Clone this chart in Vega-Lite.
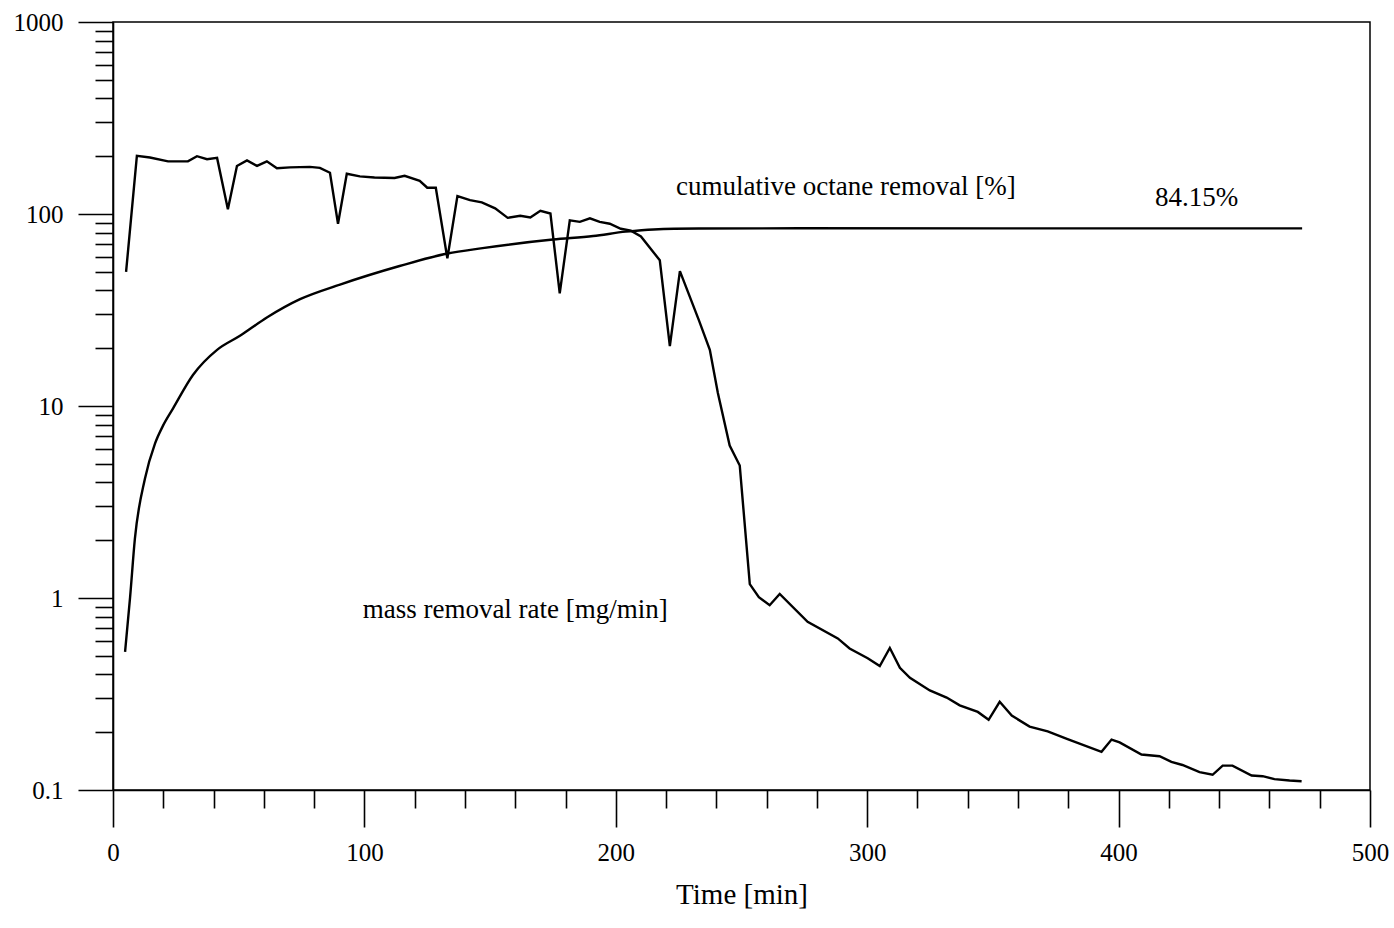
{
  "$schema": "https://vega.github.io/schema/vega-lite/v6.json",
  "width": 1257,
  "height": 768,
  "autosize": {"type": "none"},
  "padding": {"left": 113, "top": 22, "right": 24, "bottom": 138},
  "background": "white",
  "config": {
    "view": {"stroke": "black", "strokeWidth": 1.5},
    "font": "Liberation Serif",
    "axis": {"grid": false, "domainColor": "black", "domainWidth": 1.6, "tickColor": "black", "tickWidth": 1.6, "labelColor": "black", "labelFont": "Liberation Serif", "titleFont": "Liberation Serif", "titleColor": "black"}
  },
  "datasets": {
    "rate": [
      {"t": 5.2, "v": 49.9}, {"t": 9.5, "v": 201}, {"t": 14.7, "v": 197}, {"t": 21.9, "v": 188}, {"t": 29.8, "v": 188}, {"t": 33.4, "v": 200}, {"t": 37.4, "v": 193}, {"t": 41.4, "v": 196}, {"t": 45.7, "v": 106}, {"t": 49.3, "v": 178}, {"t": 53.3, "v": 190}, {"t": 57.3, "v": 178}, {"t": 61.2, "v": 188}, {"t": 65.2, "v": 173}, {"t": 70.4, "v": 175}, {"t": 78.3, "v": 176}, {"t": 82.3, "v": 174}, {"t": 86.3, "v": 164}, {"t": 89.5, "v": 89}, {"t": 93, "v": 162}, {"t": 98.2, "v": 157}, {"t": 104, "v": 155}, {"t": 112, "v": 154}, {"t": 116, "v": 158}, {"t": 122, "v": 149}, {"t": 125, "v": 137}, {"t": 128.4, "v": 137}, {"t": 133, "v": 58.7}, {"t": 137, "v": 124}, {"t": 142, "v": 118}, {"t": 146.7, "v": 115}, {"t": 152, "v": 107}, {"t": 157, "v": 95.5}, {"t": 162, "v": 97.9}, {"t": 166, "v": 96}, {"t": 170, "v": 104}, {"t": 174, "v": 100.6}, {"t": 177.7, "v": 38.6}, {"t": 181.7, "v": 92.7}, {"t": 185.7, "v": 91}, {"t": 189.7, "v": 95}, {"t": 193.6, "v": 90.9}, {"t": 197.6, "v": 89}, {"t": 202, "v": 83.8}, {"t": 206, "v": 81.9}, {"t": 210, "v": 76.4}, {"t": 217.5, "v": 57.4}, {"t": 221.5, "v": 20.5}, {"t": 225.5, "v": 50.4}, {"t": 233, "v": 28.1}, {"t": 237.4, "v": 19.6}, {"t": 240.6, "v": 11.7}, {"t": 245.3, "v": 6.22}, {"t": 249.3, "v": 4.9}, {"t": 253.3, "v": 1.18}, {"t": 256.9, "v": 1.01}, {"t": 261.2, "v": 0.917}, {"t": 265.2, "v": 1.05}, {"t": 276.3, "v": 0.752}, {"t": 288.3, "v": 0.616}, {"t": 293, "v": 0.546}, {"t": 300.2, "v": 0.486}, {"t": 305, "v": 0.442}, {"t": 309, "v": 0.549}, {"t": 313, "v": 0.433}, {"t": 317, "v": 0.384}, {"t": 324.9, "v": 0.33}, {"t": 331.6, "v": 0.303}, {"t": 336.8, "v": 0.276}, {"t": 344, "v": 0.255}, {"t": 348.3, "v": 0.232}, {"t": 352.7, "v": 0.288}, {"t": 357.5, "v": 0.244}, {"t": 364.6, "v": 0.214}, {"t": 371.8, "v": 0.202}, {"t": 379.7, "v": 0.184}, {"t": 393.2, "v": 0.158}, {"t": 397.2, "v": 0.183}, {"t": 400.4, "v": 0.177}, {"t": 409.1, "v": 0.153}, {"t": 416.3, "v": 0.15}, {"t": 421, "v": 0.14}, {"t": 425.4, "v": 0.135}, {"t": 432.2, "v": 0.124}, {"t": 437.4, "v": 0.12}, {"t": 441.4, "v": 0.134}, {"t": 445.3, "v": 0.134}, {"t": 452.9, "v": 0.119}, {"t": 457.3, "v": 0.118}, {"t": 462, "v": 0.114}, {"t": 468, "v": 0.112}, {"t": 472.8, "v": 0.111}
    ],
    "cum": [
      {"t": 4.8, "v": 0.524}, {"t": 6.8, "v": 1.01}, {"t": 8.7, "v": 2.03}, {"t": 12.7, "v": 4.18}, {"t": 16.7, "v": 6.37}, {"t": 19.9, "v": 7.9}, {"t": 23.9, "v": 9.72}, {"t": 31.8, "v": 14.5}, {"t": 41.4, "v": 19.6}, {"t": 50.5, "v": 23.2}, {"t": 61.2, "v": 28.9}, {"t": 74.4, "v": 36.0}, {"t": 90.3, "v": 42.9}, {"t": 114, "v": 53.6}, {"t": 133, "v": 62.3}, {"t": 147, "v": 66.4}, {"t": 175, "v": 73.6}, {"t": 191, "v": 76.8}, {"t": 204, "v": 80.9}, {"t": 215, "v": 83.1}, {"t": 233, "v": 84.0}, {"t": 273, "v": 84.3}, {"t": 353, "v": 84.2}, {"t": 473, "v": 84.15}
    ],
    "notes": [
      {"t": 160, "v": 0.868, "label": "mass removal rate [mg/min]"},
      {"t": 291.5, "v": 139, "label": "cumulative octane removal [%]"},
      {"t": 431, "v": 121, "label": "84.15%"}
    ]
  },
  "layer": [
    {
      "data": {"name": "rate"},
      "mark": {"type": "line", "color": "black", "strokeWidth": 2.4},
      "encoding": {
        "x": {"field": "t", "type": "quantitative", "scale": {"domain": [0, 500], "nice": false, "zero": false},
          "axis": {"orient": "bottom", "values": [0, 100, 200, 300, 400, 500], "tickSize": 37, "labelFontSize": 25, "labelPadding": 13, "labelFlush": false, "title": "Time [min]", "titleFontSize": 29, "titleFontWeight": "normal", "titlePadding": 15}},
        "y": {"field": "v", "type": "quantitative", "scale": {"type": "log", "domain": [0.1, 1000], "nice": false},
          "axis": {"orient": "left", "values": [0.1, 1, 10, 100, 1000], "tickSize": 35, "labelFontSize": 25, "labelPadding": 15, "labelFlush": false, "labelExpr": "datum.value < 1 ? '0.1' : format(datum.value, 'd')", "title": null}}
      }
    },
    {
      "data": {"name": "cum"},
      "mark": {"type": "line", "color": "black", "strokeWidth": 2.4, "interpolate": "monotone"},
      "encoding": {
        "x": {"field": "t", "type": "quantitative",
          "axis": {"orient": "bottom", "values": [20, 40, 60, 80, 120, 140, 160, 180, 220, 240, 260, 280, 320, 340, 360, 380, 420, 440, 460, 480], "tickSize": 18, "labels": false, "domain": false, "title": null}},
        "y": {"field": "v", "type": "quantitative",
          "axis": {"orient": "left", "values": [0.2, 0.3, 0.4, 0.5, 0.6, 0.7, 0.8, 0.9, 2, 3, 4, 5, 6, 7, 8, 9, 20, 30, 40, 50, 60, 70, 80, 90, 200, 300, 400, 500, 600, 700, 800, 900], "tickSize": 18, "labels": false, "domain": false, "title": null}}
      }
    },
    {
      "data": {"name": "notes"},
      "mark": {"type": "text", "font": "Liberation Serif", "fontSize": 27, "color": "black", "align": "center", "baseline": "middle"},
      "encoding": {
        "x": {"field": "t", "type": "quantitative", "axis": null},
        "y": {"field": "v", "type": "quantitative", "axis": null},
        "text": {"field": "label"}
      }
    }
  ],
  "resolve": {"axis": {"x": "independent", "y": "independent"}}
}
